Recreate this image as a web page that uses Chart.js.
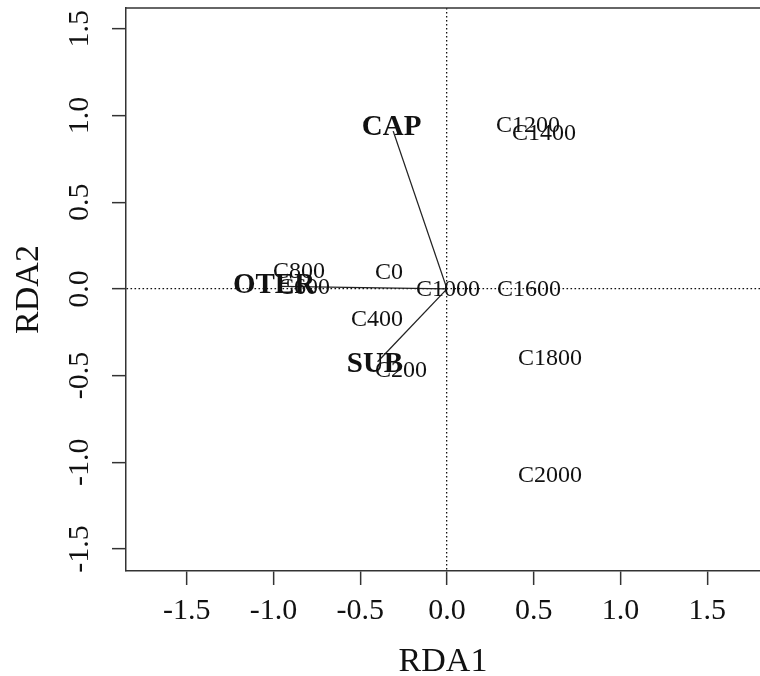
<!DOCTYPE html>
<html>
<head>
<meta charset="utf-8">
<title>RDA biplot</title>
<script src="https://cdn.jsdelivr.net/npm/chart.js@4"></script>
<style>
  html, body { margin: 0; padding: 0; background: #fff; overflow: hidden; }
  canvas { display: block; }
</style>
</head>
<body>
<canvas id="rdaChart" width="760" height="676"></canvas>
<script>
// Site scores on the first two axes
const siteNames = ['C0', 'C200', 'C400', 'C600', 'C800', 'C1000', 'C1200', 'C1400', 'C1600', 'C1800', 'C2000'];
const siteRDA1 = [-0.334, -0.265, -0.403, -0.824, -0.853, 0.006, 0.467, 0.559, 0.473, 0.593, 0.593];
const siteRDA2 = [0.092, -0.473, -0.179, 0.006, 0.100, -0.006, 0.941, 0.894, -0.006, -0.400, -1.079];

// Environmental variables: arrow tips and where their names sit
const envNames = ['CAP', 'OTER', 'SUB'];
const envRDA1 = [-0.31, -0.96, -0.40];
const envRDA2 = [0.91, 0.014, -0.42];
const envLabelRDA1 = [-0.319, -0.997, -0.415];
const envLabelRDA2 = [0.929, 0.020, -0.439];

// Tick values for both axes
const axisTicks = [-1.5, -1.0, -0.5, 0.0, 0.5, 1.0, 1.5];

const serif = "'Liberation Serif', 'Times New Roman', serif";
const ink = '#111';
const frame = '#333';

// Datasets: sites (labels only), one segment per variable, variable labels
const datasets = [];
datasets.push({
    label: 'sites',
    data: siteRDA1.map((x, i) => ({ x: x, y: siteRDA2[i] })),
    pointRadius: 0,
    showLine: false
});
envNames.forEach((name, i) => {
    datasets.push({
        label: name + ' arrow',
        data: [{ x: 0, y: 0 }, { x: envRDA1[i], y: envRDA2[i] }],
        showLine: true,
        borderColor: '#222',
        borderWidth: 1.3,
        pointRadius: 0
    });
});
datasets.push({
    label: 'variables',
    data: envLabelRDA1.map((x, i) => ({ x: x, y: envLabelRDA2[i] })),
    pointRadius: 0,
    showLine: false
});

// Text labels at the points + rotated y tick labels + top frame line
const biplotText = {
    id: 'biplotText',
    afterDatasetsDraw(chart) {
        const ctx = chart.ctx;
        ctx.save();
        ctx.fillStyle = ink;
        ctx.textAlign = 'center';
        ctx.textBaseline = 'middle';

        ctx.font = '24px ' + serif;
        chart.getDatasetMeta(0).data.forEach((pt, i) => {
            ctx.fillText(siteNames[i], pt.x, pt.y);
        });

        ctx.font = 'bold 29px ' + serif;
        chart.getDatasetMeta(datasets.length - 1).data.forEach((pt, i) => {
            ctx.fillText(envNames[i], pt.x, pt.y);
        });
        ctx.restore();
    },
    afterDraw(chart) {
        const ctx = chart.ctx;
        const area = chart.chartArea;
        const yScale = chart.scales.y;

        ctx.save();
        ctx.strokeStyle = frame;
        ctx.lineWidth = 1.5;
        ctx.beginPath();
        ctx.moveTo(area.left, area.top);
        ctx.lineTo(area.right, area.top);
        ctx.stroke();

        ctx.fillStyle = ink;
        ctx.font = '30px ' + serif;
        ctx.textAlign = 'center';
        ctx.textBaseline = 'middle';
        yScale.ticks.forEach(t => {
            const y = yScale.getPixelForValue(t.value);
            ctx.save();
            ctx.translate(80, y);
            ctx.rotate(-Math.PI / 2);
            ctx.fillText(t.value.toFixed(1), 0, 0);
            ctx.restore();
        });
        ctx.restore();
    }
};

// Only the zero lines are drawn (dotted), tick marks stay solid
function zeroLineColor(c) {
    return c.tick && c.tick.value === 0 ? '#111' : 'rgba(0,0,0,0)';
}

const ctx = document.getElementById('rdaChart').getContext('2d');
const chart = new Chart(ctx, {
    type: 'scatter',
    data: { datasets: datasets },
    options: {
        responsive: false,
        animation: false,
        devicePixelRatio: 1,
        layout: { padding: { top: 8, left: 0, right: 0, bottom: 0 } },
        plugins: {
            legend: { display: false },
            tooltip: { enabled: false }
        },
        scales: {
            x: {
                type: 'linear',
                min: -1.85,
                max: 1.804,
                afterBuildTicks: scale => { scale.ticks = axisTicks.map(v => ({ value: v })); },
                afterFit: scale => { scale.height = 105; },
                grid: {
                    color: zeroLineColor,
                    lineWidth: 1.3,
                    tickColor: frame,
                    tickWidth: 1.5,
                    tickLength: 14
                },
                border: { display: true, color: frame, width: 1.5, dash: [1.6, 2.4] },
                ticks: {
                    autoSkip: false,
                    maxRotation: 0,
                    padding: 8,
                    color: ink,
                    font: { family: serif, size: 30 },
                    callback: v => v.toFixed(1)
                },
                title: {
                    display: true,
                    text: 'RDA1',
                    color: ink,
                    font: { family: serif, size: 34, lineHeight: 0.8 },
                    padding: { top: 0, bottom: 0 }
                }
            },
            y: {
                type: 'linear',
                min: -1.627,
                max: 1.62,
                afterBuildTicks: scale => { scale.ticks = axisTicks.map(v => ({ value: v })); },
                afterFit: scale => { scale.width = 126; },
                grid: {
                    color: zeroLineColor,
                    lineWidth: 1.3,
                    tickColor: frame,
                    tickWidth: 1.5,
                    tickLength: 14
                },
                border: { display: true, color: frame, width: 1.5, dash: [1.6, 2.4] },
                ticks: { display: false },
                title: {
                    display: true,
                    text: 'RDA2',
                    color: ink,
                    font: { family: serif, size: 34, lineHeight: 1 },
                    padding: { top: 12, bottom: 0 }
                }
            }
        }
    },
    plugins: [biplotText]
});
</script>
</body>
</html>
